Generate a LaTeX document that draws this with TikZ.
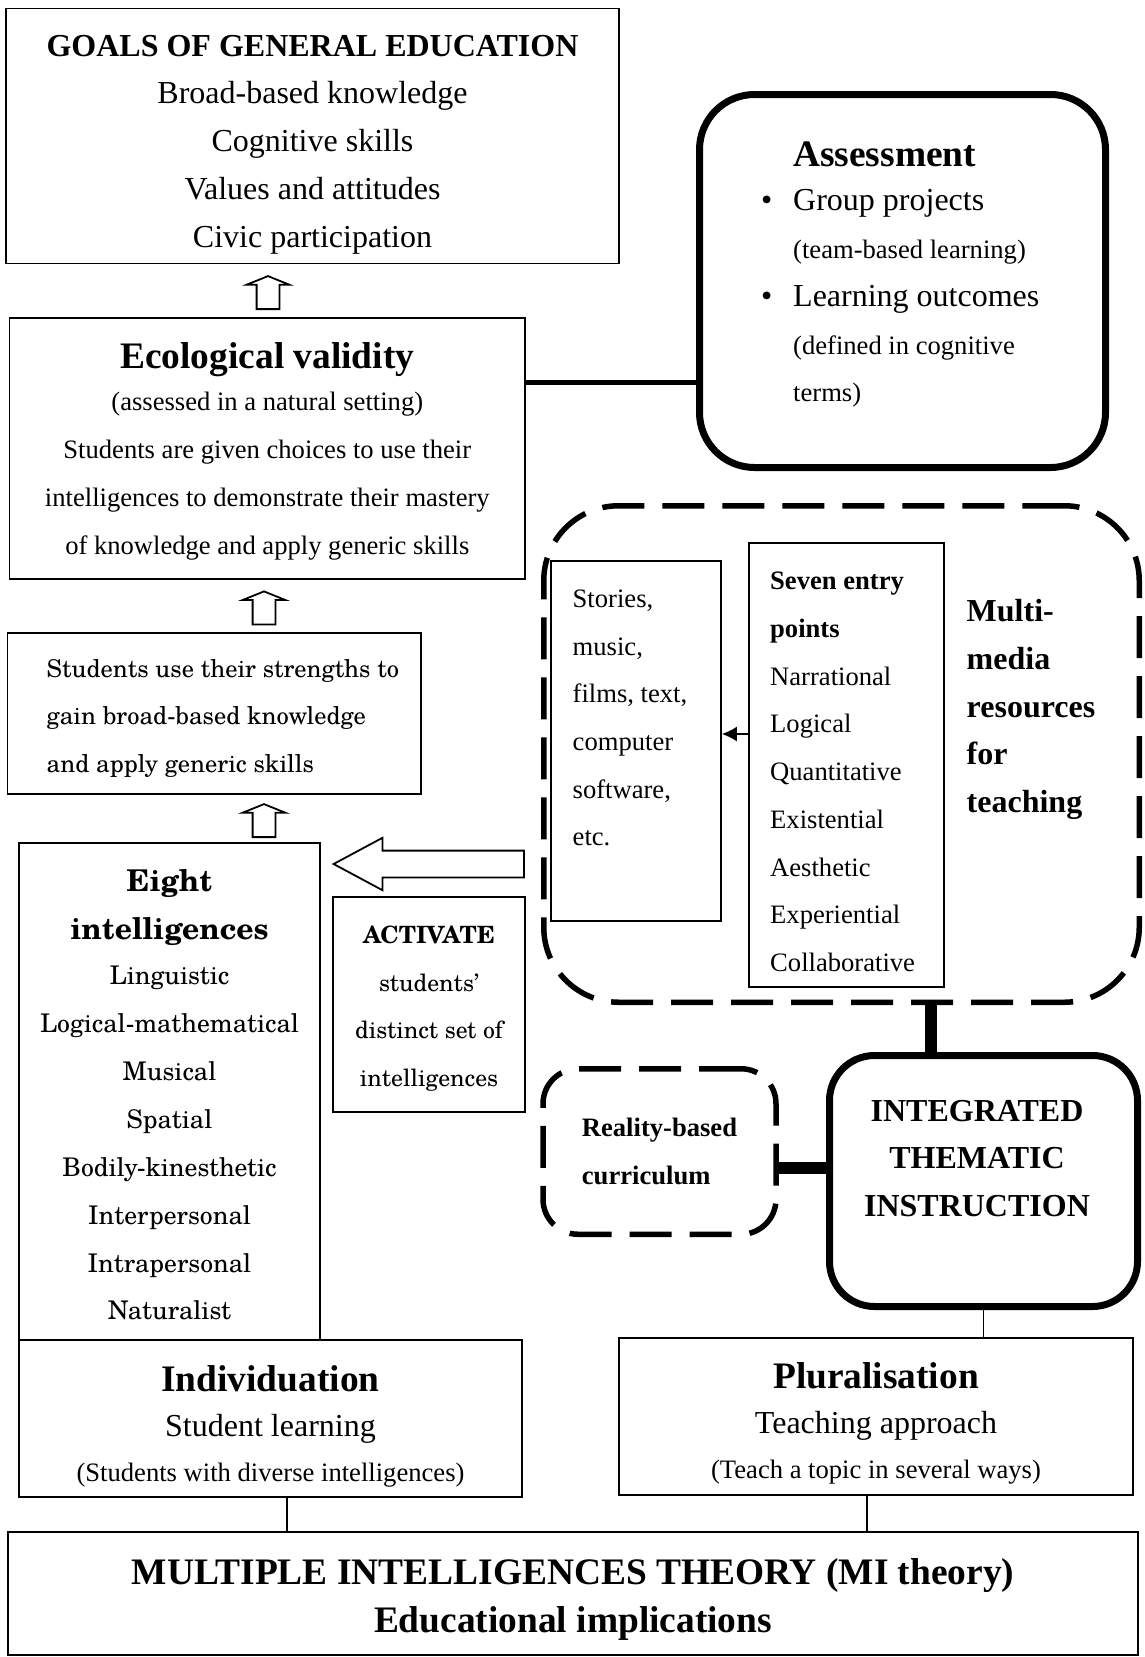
\documentclass[tikz,border=0pt]{standalone}
\usepackage{fontspec}
\usepackage{tikz}
\usetikzlibrary{shapes.arrows,arrows.meta}

\newfontfamily\tnr{Liberation Serif}
\newfontfamily\sch{texgyreschola-regular.otf}[BoldFont=texgyreschola-bold.otf]

\newcommand{\headsize}{\fontsize{37.4}{47.7}\selectfont\bfseries}
\newcommand{\bodysize}{\fontsize{32}{47.7}\selectfont}
\newcommand{\notesize}{\fontsize{26.6}{47.7}\selectfont}
\newcommand{\schhead}{\fontsize{30}{47.9}\selectfont\bfseries}

\begin{document}
\begin{tikzpicture}[x=1pt, y=-1pt,
    box/.style={draw, line width=1.8pt, inner sep=0pt},
    roundbox/.style={draw, line width=7pt, inner sep=0pt},
    dashbox/.style={draw, line width=5.5pt, dash pattern=on 42pt off 18pt, inner sep=0pt},
    words/.style={inner sep=0pt, align=left},
    centred/.style={inner sep=0pt, align=center},
    blockarrow/.style={draw, line width=1.8pt, shape=single arrow, inner xsep=0pt, single arrow head indent=0pt},
    uparrow/.style={blockarrow, rotate=90, anchor=tail, inner ysep=10.5pt, minimum height=33pt,
        single arrow head extend=9.8pt, single arrow tip angle=136},
    link/.style={line width=1.5pt},
    heavylink/.style={line width=12pt}]

  \useasboundingbox (0,0) rectangle (1144,1657);

  % left column
  \node[box, minimum width=613pt, minimum height=255pt] (goals) at (312.5,136) {};
  \node[centred, font=\tnr\bodysize] (goalstxt) at (312.5,144.5)
    {{\bfseries GOALS OF GENERAL EDUCATION}\\Broad-based knowledge\\Cognitive skills\\Values and attitudes\\Civic participation};
  \node[uparrow] (up1) at (268,310) {};
  \node[box, minimum width=515.5pt, minimum height=261pt] (eco) at (267.3,448.5) {};
  \node[centred, font=\tnr\notesize] (ecotxt) at (267.3,451.2)
    {{\headsize Ecological validity}\\[-5.3pt](assessed in a natural setting)\\Students are given choices to use their\\intelligences to demonstrate their mastery\\of knowledge and apply generic skills};
  \node[uparrow] (up2) at (264,625.3) {};
  \node[box, minimum width=413.6pt, minimum height=161pt] (strengths) at (214.2,713.5) {};
  \node[words, anchor=west, font=\sch\fontsize{24.5}{47.5}\selectfont] (strengthstxt) at (46.5,718)
    {Students use their strengths to\\gain broad-based knowledge\\and apply generic skills};
  \node[uparrow] (up3) at (264,838) {};
  \node[box, minimum width=301pt, minimum height=497.5pt] (eight) at (169.5,1091.7) {};
  \node[centred, font=\sch\fontsize{25.7}{47.9}\selectfont] (eighttxt) at (169.5,1095)
    {{\schhead Eight}\\{\schhead intelligences}\\[-3pt]Linguistic\\Logical-mathematical\\Musical\\Spatial\\Bodily-kinesthetic\\Interpersonal\\Intrapersonal\\Naturalist};
  \node[blockarrow, rotate=180, anchor=tip, inner ysep=12.5pt, minimum height=190.3pt,
        single arrow head extend=12.85pt, single arrow tip angle=56.4] (activarrow) at (331.7,864) {};
  \node[box, minimum width=192pt, minimum height=215pt] (activate) at (429,1004.5) {};
  \node[centred, font=\sch\fontsize{23.8}{47.5}\selectfont] (activatetxt) at (429,1008.7)
    {{\bfseries ACTIVATE}\\students’\\distinct set of\\intelligences};

  % assessment
  \node[roundbox, rounded corners=55pt, minimum width=406pt, minimum height=373pt] (assess) at (902.5,281) {};
  \node[words, anchor=west, font=\tnr\bodysize] (assesstxt) at (793,274.5)
    {{\headsize Assessment}\\[-3pt]
     \makebox[0pt][r]{\textbullet\hspace{21pt}}Group projects\\
     {\notesize (team-based learning)}\\
     \makebox[0pt][r]{\textbullet\hspace{21pt}}Learning outcomes\\
     {\notesize (defined in cognitive}\\
     {\notesize terms)}};

  % multimedia resources
  \node[dashbox, rounded corners=75pt, minimum width=595.5pt, minimum height=496.5pt] (multi) at (841.5,754) {};
  \node[box, minimum width=170pt, minimum height=360pt] (stories) at (636,741) {};
  \node[words, anchor=west, font=\tnr\notesize] (storiestxt) at (572.5,718)
    {Stories,\\music,\\films, text,\\computer\\software,\\etc.};
  \node[box, minimum width=195pt, minimum height=444pt] (entry) at (846.5,765) {};
  \node[words, anchor=west, font=\tnr\notesize] (entrytxt) at (770,772)
    {{\bfseries Seven entry}\\{\bfseries points}\\Narrational\\Logical\\Quantitative\\Existential\\Aesthetic\\Experiential\\Collaborative};
  \node[words, anchor=west, font=\tnr\bodysize\bfseries] (multitxt) at (966.5,709.5)
    {Multi-\\media\\resources\\for\\teaching};

  % thematic instruction
  \node[roundbox, rounded corners=45pt, minimum width=308pt, minimum height=251pt] (integ) at (983.5,1181) {};
  \node[centred, font=\tnr\bodysize\bfseries] (integtxt) at (977,1158.5)
    {INTEGRATED\\THEMATIC\\INSTRUCTION};
  \node[dashbox, rounded corners=35pt, minimum width=233pt, minimum height=165.5pt, align=left,
        font=\tnr\notesize\bfseries] (reality) at (659.5,1151.5) {Reality-based\\curriculum};

  % bottom row
  \node[box, minimum width=503pt, minimum height=157pt] (indiv) at (270.5,1418.5) {};
  \node[centred, font=\tnr\bodysize] (indivtxt) at (270.5,1426.5)
    {{\headsize Individuation}\\[-3.2pt]Student learning\\[-2pt]{\notesize (Students with diverse intelligences)}};
  \node[box, minimum width=514pt, minimum height=157pt] (plural) at (876,1416.5) {};
  \node[centred, font=\tnr\bodysize] (pluraltxt) at (876,1423.5)
    {{\headsize Pluralisation}\\[-3.2pt]Teaching approach\\[-2pt]{\notesize (Teach a topic in several ways)}};
  \node[box, minimum width=1129.5pt, minimum height=123pt] (mi) at (573,1593.5) {};
  \node[centred, font=\tnr\headsize] (mitxt) at (573,1599.5)
    {MULTIPLE INTELLIGENCES THEORY (MI theory)\\Educational implications};

  \draw[line width=5.7pt] ([yshift=66pt]eco.east) -- ([yshift=66pt]eco.east -| assess.west);
  \draw[link, -{Latex[length=15pt,width=15pt]}] ([yshift=31pt]entry.west) -- ([yshift=31pt]entry.west -| stories.east);
  \draw[heavylink] ([xshift=-53pt]integ.north) -- ([xshift=-53pt]integ.north |- multi.south);
  \draw[heavylink] ([yshift=-16.5pt]reality.east) -- ([yshift=-16.5pt]reality.east -| integ.west);
  \draw[link] (integ.south) -- (integ.south |- plural.north);
  \draw[link] ([xshift=16.5pt]indiv.south) -- ([xshift=16.5pt]indiv.south |- mi.north);
  \draw[link] ([xshift=-9pt]plural.south) -- ([xshift=-9pt]plural.south |- mi.north);
\end{tikzpicture}
\end{document}
